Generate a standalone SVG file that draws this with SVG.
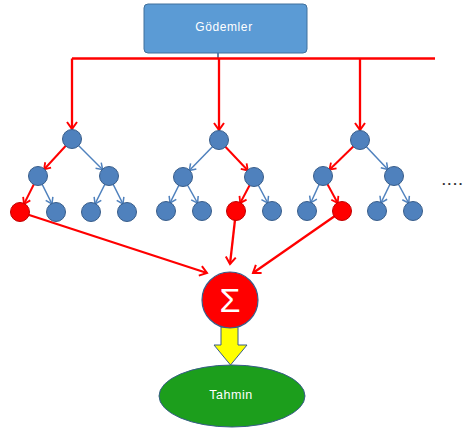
<svg xmlns="http://www.w3.org/2000/svg" width="466" height="428" viewBox="0 0 466 428">
  <style>
    .node { fill: #4F81BD; stroke: #385D8A; stroke-width: 1; }
    .hot { fill: #FF0000; stroke: #C00000; stroke-width: 1; }
    .red { stroke: #FF0000; stroke-width: 2.3; fill: none; }
    .tree-red { stroke: #FF0000; stroke-width: 2; fill: none; marker-end: url(#arrRedTree); }
    .tree-blue { stroke: #4F81BD; stroke-width: 1.5; fill: none; marker-end: url(#arrBlueTree); }
    .label { font-family: "Liberation Sans", Arial, sans-serif; fill: #FFFFFF; text-anchor: middle; }
  </style>
  <defs>
    <!-- open V heads; tree variants stop short of the child circle -->
    <marker id="arrRedTree" markerUnits="userSpaceOnUse" markerWidth="30" markerHeight="12" refX="15" refY="4" orient="auto" overflow="visible">
      <path d="M0,0 L6,4 L0,8" fill="none" stroke="#FF0000" stroke-width="1.8"/>
    </marker>
    <marker id="arrBlueTree" markerUnits="userSpaceOnUse" markerWidth="30" markerHeight="12" refX="15" refY="4" orient="auto" overflow="visible">
      <path d="M0,0 L6,4 L0,8" fill="none" stroke="#4F81BD" stroke-width="1.5"/>
    </marker>
    <marker id="arrRed" markerUnits="userSpaceOnUse" markerWidth="12" markerHeight="12" refX="7" refY="5" orient="auto" overflow="visible">
      <path d="M0,0 L7,5 L0,10" fill="none" stroke="#FF0000" stroke-width="2"/>
    </marker>
  </defs>

  <!-- connectors -->
  <g id="connectors">
    <line x1="218" y1="53" x2="218" y2="58.5" stroke="#385D8A" stroke-width="1.5"/>
    <line class="red" x1="72" y1="58.5" x2="435" y2="58.5" stroke-width="2"/>
    <line class="red" x1="72" y1="58.5" x2="72" y2="129" stroke-width="2" marker-end="url(#arrRed)"/>
    <line class="red" x1="219" y1="58.5" x2="219" y2="130" stroke-width="2" marker-end="url(#arrRed)"/>
    <line class="red" x1="360" y1="58.5" x2="360" y2="130" stroke-width="2" marker-end="url(#arrRed)"/>

    <!-- tree 1 -->
    <line class="tree-red" x1="72" y1="139" x2="38" y2="176"/>
    <line class="tree-blue" x1="72" y1="139" x2="109" y2="176"/>
    <line class="tree-red" x1="38" y1="176" x2="20" y2="212"/>
    <line class="tree-blue" x1="38" y1="176" x2="56" y2="212"/>
    <line class="tree-blue" x1="109" y1="176" x2="91" y2="212"/>
    <line class="tree-blue" x1="109" y1="176" x2="127" y2="212"/>

    <!-- tree 2 -->
    <line class="tree-blue" x1="219" y1="140" x2="183" y2="177"/>
    <line class="tree-red" x1="219" y1="140" x2="254" y2="177"/>
    <line class="tree-blue" x1="183" y1="177" x2="166" y2="211"/>
    <line class="tree-blue" x1="183" y1="177" x2="202" y2="211"/>
    <line class="tree-red" x1="254" y1="177" x2="236" y2="211"/>
    <line class="tree-blue" x1="254" y1="177" x2="272" y2="211"/>

    <!-- tree 3 -->
    <line class="tree-red" x1="360" y1="140" x2="323" y2="176"/>
    <line class="tree-blue" x1="360" y1="140" x2="394" y2="176"/>
    <line class="tree-blue" x1="323" y1="176" x2="307" y2="211"/>
    <line class="tree-red" x1="323" y1="176" x2="342" y2="211"/>
    <line class="tree-blue" x1="394" y1="176" x2="377" y2="211"/>
    <line class="tree-blue" x1="394" y1="176" x2="413" y2="211"/>

    <!-- selected leaves into the sum -->
    <line class="red" x1="20" y1="212" x2="207" y2="273" marker-end="url(#arrRed)"/>
    <line class="red" x1="236" y1="211" x2="230" y2="264" marker-end="url(#arrRed)"/>
    <line class="red" x1="342" y1="211" x2="253" y2="273" marker-end="url(#arrRed)"/>

    <!-- block arrow to the prediction -->
    <path d="M221,327 H238 V345 H247 L230.5,365 L214,345 H221 Z" fill="#FFFF00" stroke="#385D8A" stroke-width="1"/>
  </g>

  <g id="gozlemler">
    <rect x="144" y="4" width="163" height="49" rx="4" fill="#5B9BD5" stroke="#41719C" stroke-width="1"/>
    <text class="label" x="224" y="31" font-size="12" letter-spacing="0.6">Gödemler</text>
  </g>

  <g id="tree1">
    <circle class="node" cx="72" cy="139" r="9.5"/>
    <circle class="node" cx="38" cy="176" r="9.5"/>
    <circle class="node" cx="109" cy="176" r="9.5"/>
    <circle class="hot" cx="20" cy="212" r="9.5"/>
    <circle class="node" cx="56" cy="212" r="9.5"/>
    <circle class="node" cx="91" cy="212" r="9.5"/>
    <circle class="node" cx="127" cy="212" r="9.5"/>
  </g>

  <g id="tree2">
    <circle class="node" cx="219" cy="140" r="9.5"/>
    <circle class="node" cx="183" cy="177" r="9.5"/>
    <circle class="node" cx="254" cy="177" r="9.5"/>
    <circle class="node" cx="166" cy="211" r="9.5"/>
    <circle class="node" cx="202" cy="211" r="9.5"/>
    <circle class="hot" cx="236" cy="211" r="9.5"/>
    <circle class="node" cx="272" cy="211" r="9.5"/>
  </g>

  <g id="tree3">
    <circle class="node" cx="360" cy="140" r="9.5"/>
    <circle class="node" cx="323" cy="176" r="9.5"/>
    <circle class="node" cx="394" cy="176" r="9.5"/>
    <circle class="node" cx="307" cy="211" r="9.5"/>
    <circle class="hot" cx="342" cy="211" r="9.5"/>
    <circle class="node" cx="377" cy="211" r="9.5"/>
    <circle class="node" cx="413" cy="211" r="9.5"/>
  </g>

  <g id="more">
    <text x="442" y="185" font-family="Liberation Sans, Arial, sans-serif" font-size="13" font-weight="bold" fill="#333333" letter-spacing="2">....</text>
  </g>

  <g id="sum">
    <circle cx="230" cy="300" r="28" fill="#FF0000" stroke="#385D8A" stroke-width="1.2"/>
    <text class="label" x="230" y="312" font-size="34">Σ</text>
  </g>

  <g id="tahmin">
    <ellipse cx="232" cy="396" rx="73" ry="31" fill="#1C9E1C" stroke="#385D8A" stroke-width="1"/>
    <text class="label" x="231" y="399" font-size="12.5" letter-spacing="0.5">Tahmin</text>
  </g>
</svg>
